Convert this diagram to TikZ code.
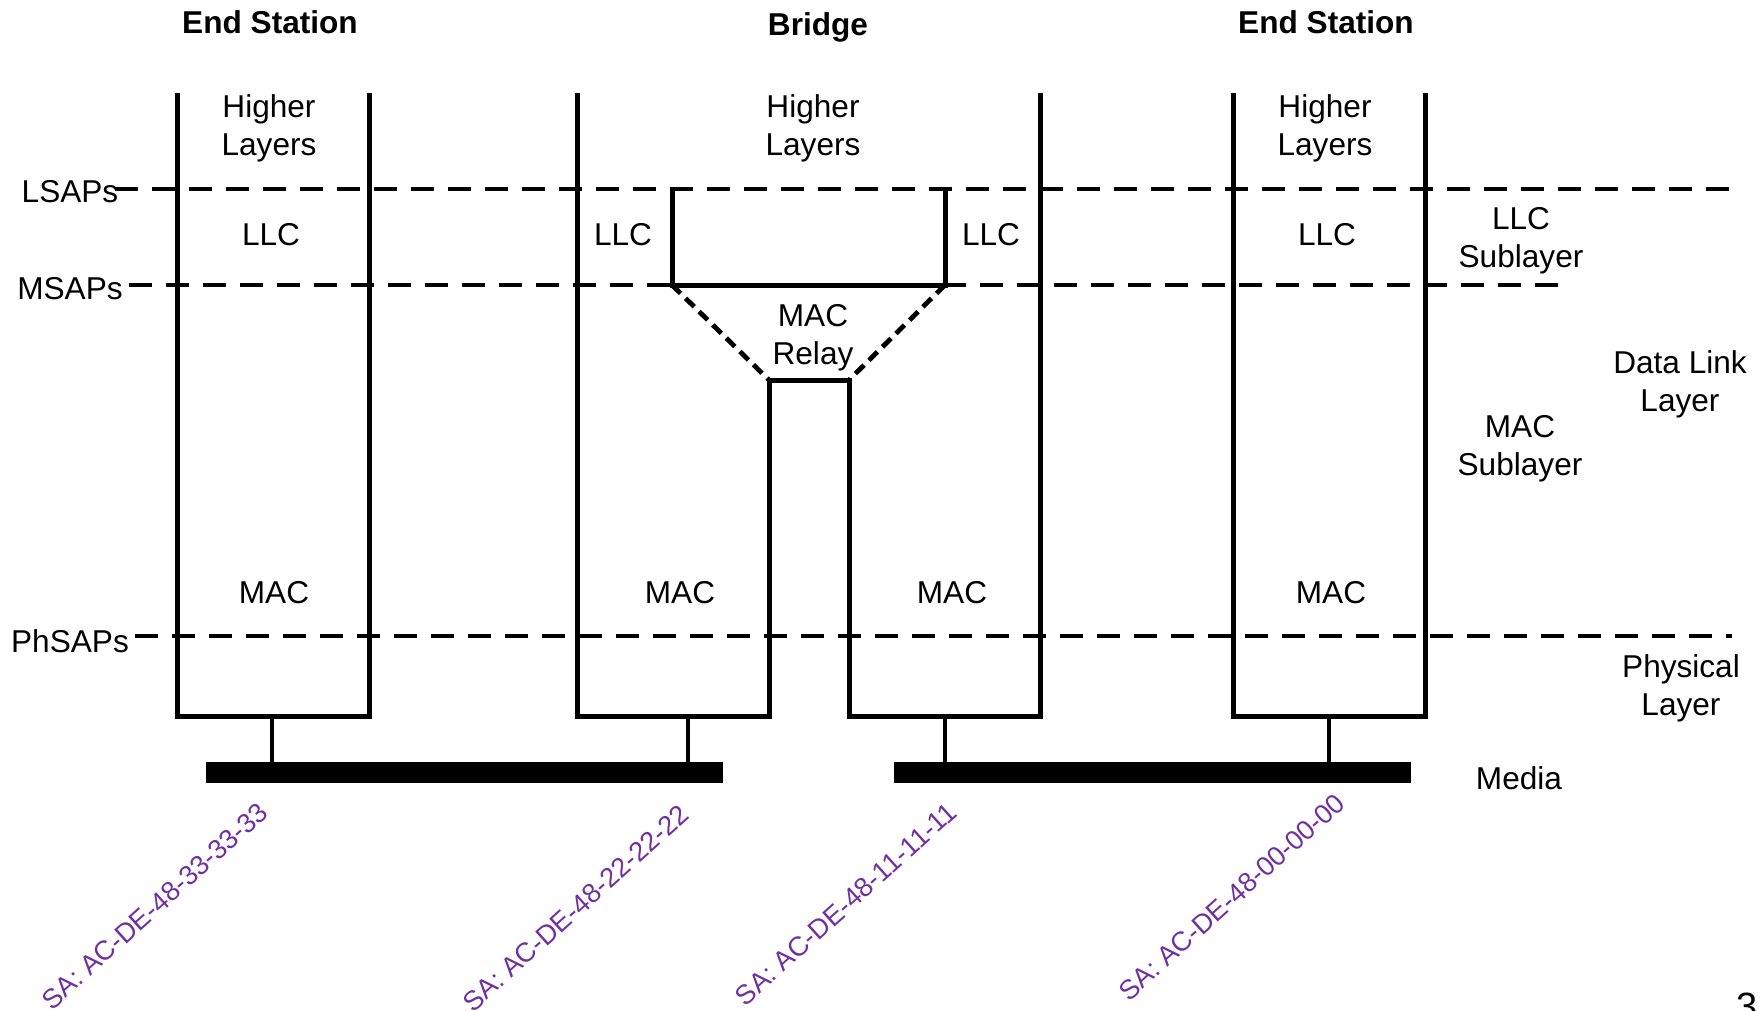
\documentclass[tikz,border=0pt]{standalone}
\usepackage{fontspec}
\setmainfont{Liberation Sans}
\definecolor{sapurple}{HTML}{7030A0}
\usetikzlibrary{positioning, calc}

\begin{document}
\begin{tikzpicture}[x=0.5pt, y=-0.5pt,
  every node/.style={font=\fontsize{15.8}{19}\selectfont, align=center, inner sep=0pt},
  title/.style={font=\fontsize{15.8}{19}\selectfont\bfseries},
  wall/.style={line width=2.5pt},
  sapline/.style={line width=2.3pt, dash pattern=on 11.5pt off 7pt},
  relayline/.style={line width=2.4pt, dash pattern=on 6pt off 3.5pt},
  stem/.style={line width=1.6pt},
  addr/.style={text=sapurple, font=\fontsize{13.6}{16}\selectfont, rotate=42}]
        \useasboundingbox (0,0) rectangle (1763,1011);
        % service access points
        \node (lsap) at (70,192) {LSAPs};
        \node (msap) at (70,289) {MSAPs};
        \node (phsap) at (70,641) {PhSAPs};
        \coordinate (lsapend) at (1732,189);
        \coordinate (msapend) at (1568,285);
        \coordinate (phsapend) at (1732,636);
        \draw[sapline] (lsap.east |- lsapend) ++(-4,0) -- (lsapend);
        \draw[sapline] (msap.east |- msapend) ++(6,0) -- (msapend);
        \draw[sapline] (phsap.east |- phsapend) ++(6,0) -- (phsapend);
        % stations and bridge
        \draw[wall] (177,93) -- (177,716) -- (369,716) -- (369,93);
        \draw[wall] (1233,93) -- (1233,716) -- (1425,716) -- (1425,93);
        \draw[wall] (577,93) -- (577,716) -- (769,716) -- (769,380) -- (849,380) -- (849,716) -- (1040,716) -- (1040,93);
        \draw[wall] (672,189) -- (672,285) -- (945,285) -- (945,189);
        \draw[relayline] (672,285) -- (769,380);
        \draw[relayline] (945,285) -- (849,380);
        % media
        \coordinate (medL) at (206,762);
        \coordinate (medR) at (894,762);
        \fill (medL) rectangle (723,783);
        \fill (medR) rectangle (1411,783);
        \draw[stem] (272,716) -- (272,762);
        \draw[stem] (688,716) -- (688,762);
        \draw[stem] (945,716) -- (945,762);
        \draw[stem] (1329,716) -- (1329,762);
        % labels
        \node[title] (es1) at (270,22) {End Station};
        \node[title] (bridge) at (818,27) {Bridge};
        \node[title] (es2) at (1326,22) {End Station};
        \node (hl1) at (269,128.5) {Higher\\Layers};
        \node (hl2) at (813,128.5) {Higher\\Layers};
        \node (hl3) at (1325,128.5) {Higher\\Layers};
        \node (llc1) at (271,235) {LLC};
        \node (llc2) at (623,235) {LLC};
        \node (llc3) at (991,235) {LLC};
        \node (llc4) at (1327,235) {LLC};
        \node (relay) at (813,337.5) {MAC\\Relay};
        \node (mac1) at (274,593) {MAC};
        \node (mac2) at (680,593) {MAC};
        \node (mac3) at (952,593) {MAC};
        \node (mac4) at (1331,593) {MAC};
        \node (llcsub) at (1521,240.5) {LLC\\Sublayer};
        \node (macsub) at (1520,448.5) {MAC\\Sublayer};
        \node (dll) at (1680,384) {Data Link\\Layer};
        \node (phy) at (1681,688) {Physical\\Layer};
        \node (media) at (1519,778) {Media};
        % source addresses
        \node[addr] (sa1) at (155,906) {SA: AC-DE-48-33-33-33};
        \node[addr] (sa2) at (576,908) {SA: AC-DE-48-22-22-22};
        \node[addr] (sa3) at (846,904) {SA: AC-DE-48-11-11-11};
        \node[addr] (sa4) at (1232,897) {SA: AC-DE-48-00-00-00};
        \node[anchor=north, font=\fontsize{19}{22}\selectfont] (pnum) at (1747,993) {3};
      \end{tikzpicture}
\end{document}
